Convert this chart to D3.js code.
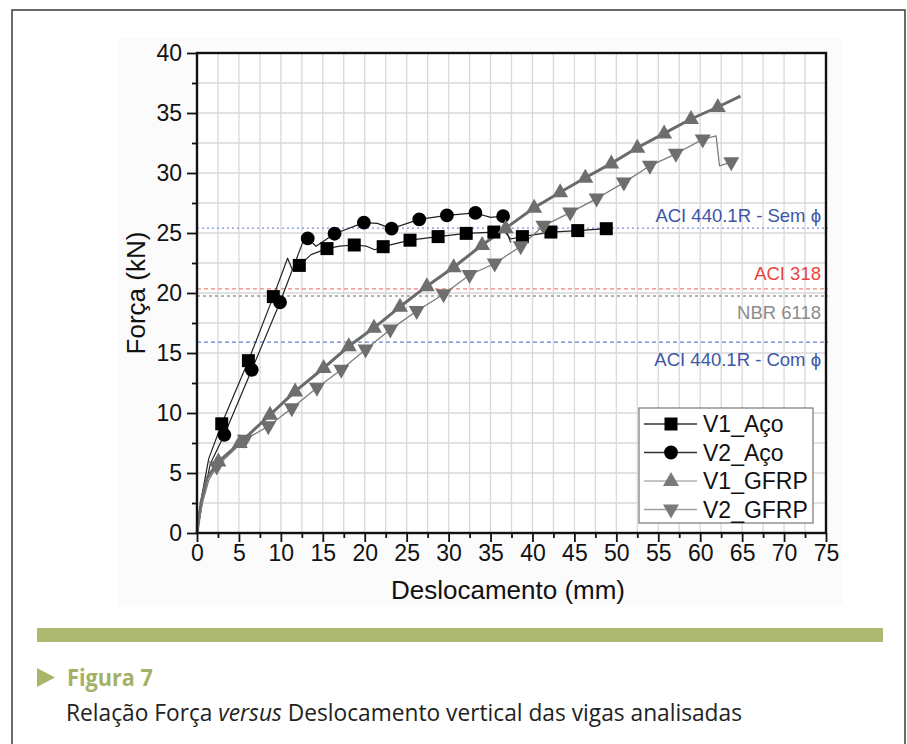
<!DOCTYPE html>
<html>
<head>
<meta charset="utf-8">
<script src="https://cdn.jsdelivr.net/npm/d3@7"></script>
<style>
  html, body { margin: 0; padding: 0; background: #fff; }
  svg { display: block; }
  .tick text { font-family: 'Liberation Sans', Arial, sans-serif; }
</style>
</head>
<body>
<div id="chart"></div>
<script>
const width = 907;
const height = 744;

// ticks
const xTicks = [0, 5, 10, 15, 20, 25, 30, 35, 40, 45, 50, 55, 60, 65, 70, 75];
const yTicks = [0, 5, 10, 15, 20, 25, 30, 35, 40];

// series: [deslocamento mm, força kN]
const v1AcoMarkers = [[2.95, 9.1], [6.13, 14.36], [9.1, 19.7], [12.2, 22.3], [15.5, 23.7], [18.75, 24.0], [22.2, 23.86], [25.4, 24.4], [28.75, 24.7], [32.1, 24.97], [35.4, 25.08], [38.8, 24.7], [42.2, 25.08], [45.4, 25.2], [48.8, 25.36]];
const v1AcoExtra = [[0, 0], [0.6, 3.2], [1.4, 6.2], [10.8, 22.9], [11.4, 21.9], [13.6, 23.2], [17, 23.9], [20.2, 23.9], [21.2, 23.6], [36.6, 25.2], [37.4, 24.5]];

const v2AcoMarkers = [[3.26, 8.18], [6.53, 13.6], [9.9, 19.23], [13.2, 24.55], [16.4, 24.94], [19.9, 25.86], [23.2, 25.36], [26.5, 26.14], [29.8, 26.47], [33.2, 26.67], [36.5, 26.4]];
const v2AcoExtra = [[0, 0], [0.7, 2.8], [1.6, 5.8], [12.6, 24.2], [14.2, 23.9], [21.5, 25.8], [35, 26.3], [37.0, 25.0], [37.4, 24.2]];

const v1GfrpMarkers = [[2.55, 5.95], [5.1, 7.49], [8.7, 9.85], [11.7, 11.8], [15.1, 13.75], [18.1, 15.56], [21.1, 17.1], [24.2, 18.85], [27.4, 20.57], [30.6, 22.15], [34, 24.0], [36.8, 25.4], [40.2, 27.1], [43.3, 28.4], [46.3, 29.6], [49.4, 30.8], [52.5, 32.1], [55.7, 33.3], [58.9, 34.5], [62.1, 35.5]];
const v1GfrpExtra = [[0, 0], [0.5, 2.6], [1.2, 4.6], [64.8, 36.4]];

const v2GfrpMarkers = [[2.35, 5.54], [5.7, 7.77], [8.5, 8.9], [11.3, 10.4], [14.3, 12.1], [17.2, 13.6], [20.1, 15.3], [23.05, 16.95], [26.2, 18.5], [29.4, 19.9], [32.5, 21.5], [35.5, 22.46], [38.6, 23.9], [41.3, 25.6], [44.5, 26.7], [47.65, 27.87], [50.9, 29.2], [54.0, 30.6], [57.1, 31.6], [60.3, 32.8], [63.7, 30.9]];
const v2GfrpExtra = [[0, 0], [0.6, 2.4], [1.4, 4.4], [61.9, 33.1], [62.3, 30.6]];

// reference limits (kN)
const refNames = ['ACI 440.1R - Sem \u03d5', 'ACI 318', 'NBR 6118', 'ACI 440.1R - Com \u03d5'];
const refValues = [25.4, 20.35, 19.75, 15.9];

const legendNames = ['V1_A\u00e7o', 'V2_A\u00e7o', 'V1_GFRP', 'V2_GFRP'];

const font = "'Liberation Sans', Arial, sans-serif";
const capFont = "'Open Sans', 'Noto Sans', sans-serif";

const svg = d3.select('#chart')
  .append('svg')
  .attr('width', width)
  .attr('height', height);

// page frame
svg.append('rect')
  .attr('x', 12).attr('y', 10)
  .attr('width', 893).attr('height', 760)
  .attr('fill', '#fff')
  .attr('stroke', '#3a3a3a')
  .attr('stroke-width', 1.5);

// chart picture background
svg.append('rect')
  .attr('x', 118).attr('y', 38)
  .attr('width', 725).attr('height', 567)
  .attr('fill', '#fbfbfb');

const x = d3.scaleLinear().domain([0, 75]).range([197, 826]);
const y = d3.scaleLinear().domain([0, 40]).range([533, 53]);

svg.append('rect')
  .attr('x', x(0)).attr('y', y(40))
  .attr('width', x(75) - x(0)).attr('height', y(0) - y(40))
  .attr('fill', '#fff');

// grid every 2.5
const gx = d3.range(0, 75.01, 2.5);
const gy = d3.range(0, 40.01, 2.5);
svg.append('g')
  .selectAll('line')
  .data(gx)
  .join('line')
  .attr('x1', d => x(d)).attr('x2', d => x(d))
  .attr('y1', y(0)).attr('y2', y(40))
  .attr('stroke', '#d9d9d9')
  .attr('stroke-width', 1.3);
svg.append('g')
  .selectAll('line')
  .data(gy)
  .join('line')
  .attr('x1', x(0)).attr('x2', x(75))
  .attr('y1', d => y(d)).attr('y2', d => y(d))
  .attr('stroke', '#d9d9d9')
  .attr('stroke-width', 1.3);

// reference lines
const refColors = ['#7f8fd8', '#f08478', '#9a9a9a', '#6c7fcf'];
const refDash = ['2,3', '4,3', '3,3', '4,3'];
svg.append('g')
  .selectAll('line')
  .data(refValues)
  .join('line')
  .attr('x1', x(0)).attr('x2', x(75) + 2)
  .attr('y1', d => y(d)).attr('y2', d => y(d))
  .attr('stroke', (d, i) => refColors[i])
  .attr('stroke-dasharray', (d, i) => refDash[i])
  .attr('stroke-width', 1.3);

const refTextColors = ['#3d56a6', '#e8453c', '#8c8c8c', '#3d56a6'];
const refOffset = [-13, -15, 17, 17];
svg.append('g')
  .selectAll('text')
  .data(refValues)
  .join('text')
  .attr('x', 821)
  .attr('y', (d, i) => y(d) + refOffset[i])
  .attr('dy', '0.35em')
  .attr('text-anchor', 'end')
  .attr('font-family', font)
  .attr('font-size', 18.5)
  .attr('fill', (d, i) => refTextColors[i])
  .text((d, i) => refNames[i]);

// series
const byX = (a, b) => a[0] - b[0];
const line = d3.line().x(d => x(d[0])).y(d => y(d[1]));

const series = [
  { markers: v1AcoMarkers, extra: v1AcoExtra, stroke: '#222', sw: 1.2, shape: 'square', fill: '#000' },
  { markers: v2AcoMarkers, extra: v2AcoExtra, stroke: '#222', sw: 1.2, shape: 'circle', fill: '#000' },
  { markers: v1GfrpMarkers, extra: v1GfrpExtra, stroke: '#6a6a6a', sw: 3, shape: 'up', fill: '#6e6e6e' },
  { markers: v2GfrpMarkers, extra: v2GfrpExtra, stroke: '#7c7c7c', sw: 1.3, shape: 'down', fill: '#6e6e6e' }
];

const shapePath = (shape) => {
  if (shape === 'square') return 'M-6.5,-6.5H6.5V6.5H-6.5Z';
  if (shape === 'circle') return d3.symbol(d3.symbolCircle, 150)();
  if (shape === 'up') return 'M0,-9L8,5L-8,5Z';
  return 'M0,9L8,-5L-8,-5Z';
};

series.forEach(s => {
  const pts = s.markers.concat(s.extra).sort(byX);
  svg.append('path')
    .attr('d', line(pts))
    .attr('fill', 'none')
    .attr('stroke', s.stroke)
    .attr('stroke-width', s.sw)
    .attr('stroke-linejoin', 'round');
});
series.forEach(s => {
  svg.append('g')
    .selectAll('path')
    .data(s.markers)
    .join('path')
    .attr('transform', d => `translate(${x(d[0])},${y(d[1])})`)
    .attr('d', shapePath(s.shape))
    .attr('fill', s.fill);
});

// axes
const yAxis = svg.append('g')
  .attr('transform', `translate(${x(0)},0)`)
  .call(d3.axisLeft(y).tickValues(yTicks).tickSize(10).tickPadding(5));
svg.append('g')
  .attr('transform', `translate(${x(0)},0)`)
  .call(d3.axisLeft(y).tickValues(d3.range(2.5, 40, 5)).tickSize(5).tickFormat(''))
  .select('.domain').remove();
const xAxis = svg.append('g')
  .attr('transform', `translate(0,${y(0)})`)
  .call(d3.axisBottom(x).tickValues(xTicks).tickSize(9).tickPadding(3));
svg.append('g')
  .attr('transform', `translate(0,${y(0)})`)
  .call(d3.axisBottom(x).tickValues(d3.range(2.5, 75, 5)).tickSize(5).tickFormat(''))
  .select('.domain').remove();

svg.selectAll('.tick line').attr('stroke', '#111').attr('stroke-width', 1.8);
svg.selectAll('.tick text')
  .attr('font-size', 23)
  .attr('fill', '#111');
yAxis.select('.domain').remove();
xAxis.select('.domain').remove();

// plot frame
svg.append('rect')
  .attr('x', x(0)).attr('y', y(40))
  .attr('width', x(75) - x(0)).attr('height', y(0) - y(40))
  .attr('fill', 'none')
  .attr('stroke', '#111')
  .attr('stroke-width', 2.4);

// axis titles
svg.append('text')
  .attr('x', 508).attr('y', 599)
  .attr('text-anchor', 'middle')
  .attr('font-family', font)
  .attr('font-size', 26)
  .attr('fill', '#111')
  .text('Deslocamento (mm)');
svg.append('text')
  .attr('transform', 'translate(145,293) rotate(-90)')
  .attr('text-anchor', 'middle')
  .attr('font-family', font)
  .attr('font-size', 26)
  .attr('fill', '#111')
  .text('For\u00e7a (kN)');

// legend
const lg = svg.append('g').attr('transform', 'translate(639,408)');
lg.append('rect')
  .attr('width', 174).attr('height', 115)
  .attr('fill', '#fff')
  .attr('stroke', '#777')
  .attr('stroke-width', 1.2);
const legendLine = ['#333', '#333', '#b0b0b0', '#a0a0a0'];
const legendMark = ['#000', '#000', '#7a7a7a', '#7a7a7a'];
const items = lg.selectAll('g')
  .data(legendNames)
  .join('g')
  .attr('transform', (d, i) => `translate(0,${16 + i * 28.5})`);
items.append('line')
  .attr('x1', 5).attr('x2', 58)
  .attr('stroke', (d, i) => legendLine[i])
  .attr('stroke-width', 1.3);
items.append('path')
  .attr('transform', 'translate(32,0)')
  .attr('d', (d, i) => shapePath(series[i].shape))
  .attr('fill', (d, i) => legendMark[i]);
items.append('text')
  .attr('x', 64)
  .attr('dy', '0.36em')
  .attr('font-family', font)
  .attr('font-size', 23)
  .attr('fill', '#111')
  .text(d => d);

// caption
svg.append('rect')
  .attr('x', 37).attr('y', 628)
  .attr('width', 846).attr('height', 14)
  .attr('fill', '#adb970');
svg.append('path')
  .attr('d', 'M37,668L55,677.5L37,687Z')
  .attr('fill', '#a8b66c');
svg.append('text')
  .attr('x', 67).attr('y', 686)
  .attr('font-family', capFont)
  .attr('font-weight', 'bold')
  .attr('font-size', 24)
  .attr('fill', '#a3b166')
  .attr('textLength', 86)
  .attr('lengthAdjust', 'spacingAndGlyphs')
  .text('Figura 7');
const cap = svg.append('text')
  .attr('x', 66).attr('y', 721)
  .attr('font-family', capFont)
  .attr('font-size', 23.5)
  .attr('fill', '#222')
  .attr('textLength', 676)
  .attr('lengthAdjust', 'spacingAndGlyphs');
cap.append('tspan').text('Rela\u00e7\u00e3o For\u00e7a ');
cap.append('tspan').attr('font-style', 'italic').text('versus');
cap.append('tspan').text(' Deslocamento vertical das vigas analisadas');
</script>
</body>
</html>
